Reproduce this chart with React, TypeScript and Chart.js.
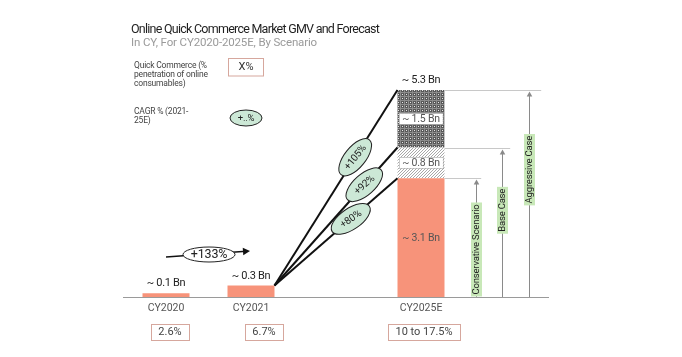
import React, { useEffect, useRef } from "react";
import { Chart, registerables } from "chart.js";

Chart.register(...registerables);

const categories = ["CY2020", "CY2021", "", "CY2025E", ""];
const conservativeGmv = [0.1, 0.3, null, 3.1, null];
const baseIncrement = [null, null, null, 0.8, null];
const aggressiveIncrement = [null, null, null, 1.5, null];
const totalLabels = ["~ 0.1 Bn", "~ 0.3 Bn", null, "~ 5.3 Bn", null];
const segmentLabels = ["~ 3.1 Bn", "~ 0.8 Bn", "~ 1.5 Bn"];
const penetration = ["2.6%", "6.7%", null, "10 to 17.5%", null];
const scenarioCagr = ["+80%", "+92%", "+105%"];
const scenarioNames = ["Conservative Scenario", "Base Case", "Aggressive Case"];
const historicCagr = "+133%";
const titleText = "Online Quick Commerce Market GMV and Forecast";
const subtitleText = "In CY, For CY2020-2025E, By Scenario";
const legendPenetration = ["Quick Commerce (%", "penetration of online", "consumables)"];
const legendCagr = ["CAGR % (2021-", "25E)"];

const SALMON = "#f7937a";
const MINT = "#cce8d6";
const FONT = "Roboto, 'Noto Sans', sans-serif";

function makeChecker(): CanvasPattern | string {
  const c = document.createElement("canvas");
  c.width = 4;
  c.height = 4;
  const x = c.getContext("2d");
  if (!x) return "#666";
  x.fillStyle = "#585858";
  x.fillRect(0, 0, 4, 4);
  x.fillStyle = "#8c8c8c";
  x.fillRect(0, 0, 4, 1);
  x.fillRect(0, 0, 1, 4);
  x.fillStyle = "#e6e6e6";
  x.fillRect(2, 2, 1, 1);
  const p = x.createPattern(c, "repeat");
  return p || "#666";
}

function makeHatch(): CanvasPattern | string {
  const c = document.createElement("canvas");
  c.width = 3;
  c.height = 3;
  const x = c.getContext("2d");
  if (!x) return "#ddd";
  x.fillStyle = "#ffffff";
  x.fillRect(0, 0, 3, 3);
  x.fillStyle = "#a8a8a8";
  x.fillRect(0, 2, 1, 1);
  x.fillRect(1, 1, 1, 1);
  x.fillRect(2, 0, 1, 1);
  const p = x.createPattern(c, "repeat");
  return p || "#ddd";
}

function ellipseLabel(ctx: CanvasRenderingContext2D, cx: number, cy: number, rx: number, ry: number, rot: number, text: string, fill: string, fontPx: number) {
  ctx.save();
  ctx.translate(cx, cy);
  ctx.rotate(rot);
  ctx.beginPath();
  ctx.ellipse(0, 0, rx, ry, 0, 0, Math.PI * 2);
  ctx.fillStyle = fill;
  ctx.fill();
  ctx.lineWidth = 1;
  ctx.strokeStyle = "#222";
  ctx.stroke();
  ctx.fillStyle = "#222";
  ctx.font = `${fontPx}px ${FONT}`;
  (ctx as any).letterSpacing = "-0.2px";
  ctx.textAlign = "center";
  ctx.textBaseline = "middle";
  ctx.fillText(text, 0, 0.5);
  ctx.restore();
}

function arrowHead(ctx: CanvasRenderingContext2D, x: number, y: number, angle: number, size: number, color: string) {
  ctx.save();
  ctx.translate(x, y);
  ctx.rotate(angle);
  ctx.beginPath();
  ctx.moveTo(0, 0);
  ctx.lineTo(-size, -size * 0.55);
  ctx.lineTo(-size, size * 0.55);
  ctx.closePath();
  ctx.fillStyle = color;
  ctx.fill();
  ctx.restore();
}

const annotations = {
  id: "annotations",
  afterDraw(chart: any) {
    const ctx: CanvasRenderingContext2D = chart.ctx;
    const area = chart.chartArea;
    const m0 = chart.getDatasetMeta(0).data;
    const m1 = chart.getDatasetMeta(1).data;
    const m2 = chart.getDatasetMeta(2).data;
    const baseline = area.bottom;

    // Title
    ctx.save();
    ctx.textAlign = "left";
    ctx.textBaseline = "middle";
    ctx.fillStyle = "#1f1f1f";
    ctx.font = `12.5px ${FONT}`;
    (ctx as any).letterSpacing = "-0.75px";
    ctx.fillText(titleText, 131, 30);
    ctx.fillStyle = "#9a9a9a";
    ctx.font = `11.5px ${FONT}`;
    (ctx as any).letterSpacing = "-0.15px";
    ctx.fillText(subtitleText, 131, 43.5);

    // Legend
    ctx.fillStyle = "#444";
    ctx.font = `8.5px ${FONT}`;
    (ctx as any).letterSpacing = "-0.2px";
    legendPenetration.forEach((t, i) => ctx.fillText(t, 134, 66 + i * 9));
    legendCagr.forEach((t, i) => ctx.fillText(t, 134, 112 + i * 9));
    (ctx as any).letterSpacing = "0px";
    ctx.strokeStyle = "#d6a79d";
    ctx.lineWidth = 1;
    ctx.strokeRect(228.5, 58.5, 35, 17.5);
    ctx.fillStyle = "#333";
    ctx.font = `11px ${FONT}`;
    ctx.textAlign = "center";
    ctx.fillText("X%", 246, 67.5);
    ctx.restore();
    ellipseLabel(ctx, 246, 118, 16, 8, 0, "+..%", MINT, 9.5);

    // Total labels above bars
    ctx.save();
    ctx.textAlign = "center";
    ctx.textBaseline = "middle";
    ctx.fillStyle = "#222";
    ctx.font = `11px ${FONT}`;
    (ctx as any).letterSpacing = "-0.3px";
    totalLabels.forEach((t, i) => {
      if (!t) return;
      let top = m0[i].y;
      if (aggressiveIncrement[i] != null) top = m2[i].y;
      ctx.fillText(t, m0[i].x, top - 9.5);
    });
    ctx.restore();

    // Penetration boxes
    const boxOffsets = [4, 13, 0, 3, 0];
    ctx.save();
    ctx.font = `11px ${FONT}`;
    ctx.textAlign = "center";
    ctx.textBaseline = "middle";
    penetration.forEach((t, i) => {
      if (!t) return;
      const cx = m0[i].x + boxOffsets[i];
      const w = ctx.measureText(t).width + 15;
      const cy = baseline + 35;
      ctx.strokeStyle = "#d6a79d";
      ctx.lineWidth = 1;
      ctx.strokeRect(Math.round(cx - w / 2) + 0.5, Math.round(cy - 8) + 0.5, Math.round(w), 16);
      ctx.fillStyle = "#444";
      ctx.fillText(t, cx, cy + 0.5);
    });
    ctx.restore();

    // Scenario bar segments
    const fIdx = 3;
    const segs = [m0[fIdx], m1[fIdx], m2[fIdx]];
    const fx = segs[0].x;
    const fw = segs[0].width;
    const fLeft = fx - fw / 2;
    const fRight = fx + fw / 2;

    // Segment labels
    ctx.save();
    ctx.textAlign = "center";
    ctx.textBaseline = "middle";
    ctx.font = `10.5px ${FONT}`;
    (ctx as any).letterSpacing = "-0.2px";
    segs.forEach((el: any, i: number) => {
      const cy = (el.y + el.base) / 2;
      const t = segmentLabels[i];
      if (i > 0) {
        const w = ctx.measureText(t).width + 6;
        ctx.fillStyle = "#fff";
        ctx.fillRect(fx - w / 2, cy - 5.5, w, 11);
        ctx.setLineDash([1, 1]);
        ctx.strokeStyle = "#999";
        ctx.lineWidth = 1;
        ctx.strokeRect(Math.round(fx - w / 2) + 0.5, Math.round(cy - 5.5) + 0.5, Math.round(w), 11);
        ctx.setLineDash([]);
      }
      ctx.fillStyle = "#555";
      ctx.fillText(t, fx, cy + 0.5);
    });
    ctx.restore();

    // Fan lines from CY2021 bar
    const src = m0[1];
    const sx = src.x + src.width / 2;
    const sy = src.y;
    const tFrac = [0.62, 0.73, 0.656];
    ctx.save();
    ctx.strokeStyle = "#111";
    ctx.lineWidth = 2;
    segs.forEach((el: any) => {
      ctx.beginPath();
      ctx.moveTo(sx, sy);
      ctx.lineTo(fLeft, el.y);
      ctx.stroke();
    });
    ctx.restore();
    segs.forEach((el: any, i: number) => {
      const ex = fLeft;
      const ey = el.y;
      const t = tFrac[i];
      const cx = sx + (ex - sx) * t;
      const cy = sy + (ey - sy) * t;
      const ang = Math.atan2(ey - sy, ex - sx) + 0.12;
      ellipseLabel(ctx, cx, cy, 22.5, 10.5, ang, scenarioCagr[i], MINT, 10);
    });

    // Scenario reference lines and arrows
    const lineExt = [36.7, 65.7, 96.7];
    const arrowOff = [31, 57, 84];
    const labelFrac = [0.4, 0.58, 0.615];
    segs.forEach((el: any, i: number) => {
      const y = Math.round(el.y) + 0.5;
      ctx.save();
      ctx.strokeStyle = "#c8c8c8";
      ctx.lineWidth = 1;
      ctx.beginPath();
      ctx.moveTo(fRight, y);
      ctx.lineTo(fRight + lineExt[i], y);
      ctx.stroke();
      const ax = Math.round(fRight + arrowOff[i]) + 0.5;
      ctx.strokeStyle = "#8a8a8a";
      ctx.beginPath();
      ctx.moveTo(ax, baseline);
      ctx.lineTo(ax, y + 5);
      ctx.stroke();
      arrowHead(ctx, ax, y + 1, -Math.PI / 2, 5, "#8a8a8a");
      const ly = baseline - (baseline - el.y) * labelFrac[i];
      ctx.translate(ax, ly);
      ctx.rotate(-Math.PI / 2);
      ctx.font = `9.5px ${FONT}`;
      (ctx as any).letterSpacing = "-0.2px";
      const w = ctx.measureText(scenarioNames[i]).width + 4;
      ctx.fillStyle = "#c8e8b8";
      ctx.fillRect(-w / 2, -5.5, w, 11);
      ctx.fillStyle = "#222";
      ctx.textAlign = "center";
      ctx.textBaseline = "middle";
      ctx.fillText(scenarioNames[i], 0, 0.5);
      ctx.restore();
    });

    // Historic CAGR arrow
    const a0 = m0[0];
    const a1 = m0[1];
    const x0 = a0.x;
    const y0 = baseline - 40;
    const x1 = a1.x - 1;
    const y1 = baseline - 46;
    ctx.save();
    ctx.strokeStyle = "#111";
    ctx.lineWidth = 1.6;
    ctx.beginPath();
    ctx.moveTo(x0, y0);
    ctx.lineTo(x1 - 4, y1 + 0.3);
    ctx.stroke();
    arrowHead(ctx, x1, y1, Math.atan2(y1 - y0, x1 - x0), 7, "#111");
    ctx.restore();
    ellipseLabel(ctx, (x0 + x1) / 2 + 1, (y0 + y1) / 2 + 0.5, 26, 7.5, 0, historicCagr, "#ffffff", 12.5);
  },
};

export default function App() {
  const ref = useRef<HTMLCanvasElement | null>(null);
  useEffect(() => {
    if (!ref.current) return;
    const chart = new Chart(ref.current, {
      type: "bar",
      data: {
        labels: categories,
        datasets: [
          { label: "Conservative", data: conservativeGmv as any, backgroundColor: SALMON, borderWidth: 0 },
          { label: "Base increment", data: baseIncrement as any, backgroundColor: makeHatch() as any, borderWidth: 0 },
          { label: "Aggressive increment", data: aggressiveIncrement as any, backgroundColor: makeChecker() as any, borderWidth: 0 },
        ],
      },
      plugins: [annotations],
      options: {
        responsive: false,
        animation: false,
        devicePixelRatio: 1,
        layout: { padding: { left: 123.5, right: 133.5, top: 67, bottom: 0 } },
        plugins: { legend: { display: false }, tooltip: { enabled: false }, title: { display: false } },
        datasets: { bar: { categoryPercentage: 1, barPercentage: 0.553 } },
        scales: {
          x: {
            stacked: true,
            grid: { display: false, drawTicks: false },
            border: { display: true, color: "#9a9a9a", width: 1 },
            ticks: { color: "#555", font: { family: FONT, size: 10.5 }, padding: 5, maxRotation: 0, autoSkip: false },
            afterFit: (s: any) => { s.height = 60; },
          },
          y: { stacked: true, display: false, min: 0, max: 6 },
        },
      },
    });
    return () => chart.destroy();
  }, []);
  return (
    <div style={{ position: "fixed", left: 0, top: 0, width: 682, height: 357, background: "#fff" }}>
      <canvas ref={ref} width={682} height={357} />
    </div>
  );
}
